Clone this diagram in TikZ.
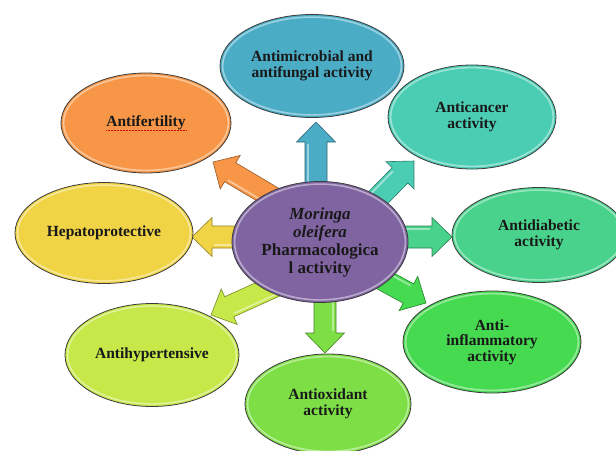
\documentclass[tikz,border=0pt]{standalone}
\usepackage{fontspec}
\setmainfont{Liberation Serif}
\usetikzlibrary{shapes.geometric,calc}

\definecolor{cPurple}{RGB}{128,100,162}
\definecolor{cMicro}{RGB}{75,172,198}
\definecolor{cCancer}{RGB}{75,205,180}
\definecolor{cDiab}{RGB}{72,210,140}
\definecolor{cInflam}{RGB}{70,218,80}
\definecolor{cOxid}{RGB}{125,222,70}
\definecolor{cHyper}{RGB}{198,232,72}
\definecolor{cHepato}{RGB}{240,212,70}
\definecolor{cFert}{RGB}{247,150,70}
\definecolor{cRim}{RGB}{60,60,60}

\tikzset{
  bubble/.style={ellipse, draw=cRim, line width=0.8pt, fill=#1, align=center,
    inner sep=0pt, text=black!90,
    font=\bfseries\fontsize{15.5}{15.5}\selectfont,
    path picture={
      \draw[white, opacity=0.45, line width=1.6pt]
        let \p1=($(path picture bounding box.north east)-(path picture bounding box.center)$) in
        (path picture bounding box.center) ellipse [x radius={\x1-2.6pt}, y radius={\y1-2.6pt}];
    }},
  hub/.style={bubble=#1, font=\bfseries\fontsize{17}{18}\selectfont},
}

% block arrow from a tail point to a tip point
\newcommand\blockarrow[3]{%
  \filldraw[fill=#3, draw=#3!60!black, line width=0.6pt, line join=miter]
    let \p1=(#1), \p2=(#2),
        \n1={atan2(\y2-\y1,\x2-\x1)},
        \n2={veclen(\x2-\x1,\y2-\y1)} in
    [shift={(\p1)}, rotate=\n1]
    (0pt,-11pt) -- ({\n2*1pt-20pt},-11pt) -- ({\n2*1pt-20pt},-19.5pt)
    -- ({\n2*1pt},0pt) -- ({\n2*1pt-20pt},19.5pt) -- ({\n2*1pt-20pt},11pt)
    -- (0pt,11pt) -- cycle;
  \draw[white, opacity=0.45, line width=1.8pt]
    let \p1=(#1), \p2=(#2),
        \n1={atan2(\y2-\y1,\x2-\x1)},
        \n2={veclen(\x2-\x1,\y2-\y1)} in
    [shift={(\p1)}, rotate=\n1]
    (0pt,8pt) -- ({\n2*1pt-22pt},8pt);
}

\begin{document}
\begin{tikzpicture}[x=1pt, y=-1pt]
  \useasboundingbox (0,0) rectangle (616,450);
  \clip (0,0) rectangle (616,450);
  \fill[white] (0,0) rectangle (616,450);

  % arrow end points
  \coordinate (tMicro)  at (316,200);  \coordinate (hMicro)  at (316,122);
  \coordinate (tCancer) at (370,206);  \coordinate (hCancer) at (414,161);
  \coordinate (tDiab)   at (380,237);  \coordinate (hDiab)   at (452,237);
  \coordinate (tInflam) at (356,265);  \coordinate (hInflam) at (426,303);
  \coordinate (tOxid)   at (325,280);  \coordinate (hOxid)   at (325,353);
  \coordinate (tHyper)  at (284,282);  \coordinate (hHyper)  at (211,315);
  \coordinate (tHepato) at (270,237);  \coordinate (hHepato) at (192,237);
  \coordinate (tFert)   at (282,203);  \coordinate (hFert)   at (213,162);

  \blockarrow{tMicro}{hMicro}{cMicro}
  \blockarrow{tCancer}{hCancer}{cCancer}
  \blockarrow{tDiab}{hDiab}{cDiab}
  \blockarrow{tInflam}{hInflam}{cInflam}
  \blockarrow{tOxid}{hOxid}{cOxid}
  \blockarrow{tHyper}{hHyper}{cHyper}
  \blockarrow{tHepato}{hHepato}{cHepato}
  \blockarrow{tFert}{hFert}{cFert}

  % outer bubbles
  \node[bubble=cMicro, minimum width=184, minimum height=103] (micro) at (312,66)
    {Antimicrobial and\\antifungal activity};
  \node[bubble=cCancer, minimum width=168, minimum height=104] (cancer) at (472,117)
    {Anticancer\\activity};
  \node[bubble=cDiab, minimum width=174, minimum height=95] (diab) at (539,235)
    {Antidiabetic\\activity};
  \node[bubble=cInflam, minimum width=178, minimum height=102] (inflam) at (492,342)
    {Anti-\\inflammatory\\activity};
  \node[bubble=cOxid, minimum width=166, minimum height=100] (oxid) at (328,404)
    {Antioxidant\\activity};
  \node[bubble=cHyper, minimum width=174, minimum height=103] (hyper) at (152,355)
    {Antihypertensive};
  \node[bubble=cHepato, minimum width=178, minimum height=101] (hepato) at (104,233)
    {Hepatoprotective};
  \node[bubble=cFert, minimum width=170, minimum height=100] (fert) at (146,123)
    {Antifertility};
  \draw[red!85!black, densely dotted, line width=0.5pt]
    ($(fert.center)+(-40,7)$) -- ($(fert.center)+(40,7)$);

  % central bubble
  \node[hub=cPurple, minimum width=176, minimum height=121] (hub) at (320,242)
    {\textit{Moringa}\\\textit{oleifera}\\Pharmacologica\\l activity};
\end{tikzpicture}
\end{document}
